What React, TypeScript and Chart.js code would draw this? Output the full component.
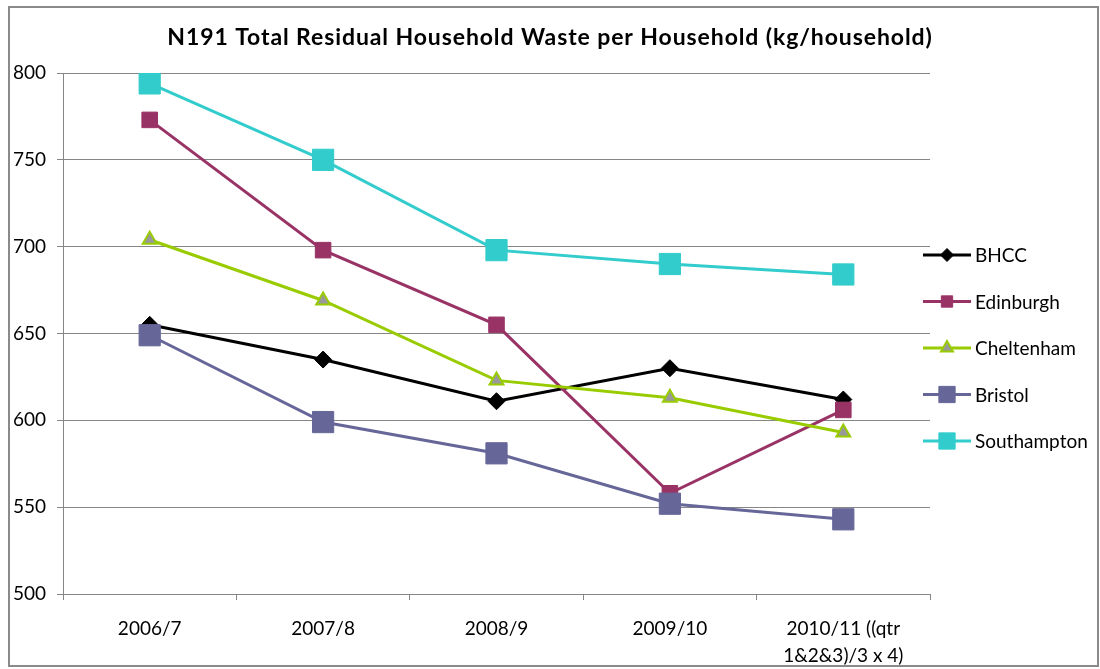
import React, { useEffect, useRef } from "react";
import { Chart, registerables } from "chart.js";
import { drawPoint } from "chart.js/helpers";

Chart.register(...registerables);

const TITLE = "N191 Total Residual Household Waste per Household (kg/household)";
const categories: (string | string[])[] = [
  "2006/7",
  "2007/8",
  "2008/9",
  "2009/10",
  ["2010/11 ((qtr", "1&2&3)/3 x 4)"],
];
const seriesNames = ["BHCC", "Edinburgh", "Cheltenham", "Bristol", "Southampton"];
const bhcc = [655, 635, 611, 630, 612];
const edinburgh = [773, 698, 655, 558, 606];
const cheltenham = [704, 669, 623, 613, 593];
const bristol = [649, 599, 581, 552, 543];
const southampton = [794, 750, 698, 690, 684];
const yTicks = { min: 500, max: 800, step: 50 };

const FONT = "Lato, 'Open Sans', sans-serif";
const GRID = "#868686";

const styles = [
  { line: "#000000", fill: "#000000", border: "#000000", shape: "rectRot", r: 8.5, bw: 1, lr: 6.5 },
  { line: "#993366", fill: "#993366", border: "#993366", shape: "rect", r: 11, bw: 1, lr: 8 },
  { line: "#99cc00", fill: "#999999", border: "#99cc00", shape: "triangle", r: 8, bw: 2, lr: 7 },
  { line: "#666699", fill: "#666699", border: "#666699", shape: "rect", r: 15, bw: 1, lr: 11.5 },
  { line: "#33cccc", fill: "#33cccc", border: "#33cccc", shape: "rect", r: 15, bw: 1, lr: 11.5 },
];

const titlePlugin = {
  id: "customTitle",
  afterDraw(chart: any) {
    const ctx = chart.ctx;
    ctx.save();
    ctx.font = `bold 23px ${FONT}`;
    (ctx as any).letterSpacing = "0.9px";
    ctx.fillStyle = "#000";
    ctx.textAlign = "center";
    ctx.textBaseline = "middle";
    ctx.fillText(TITLE, 550, 38);
    ctx.restore();
  },
};

const legendPlugin = {
  id: "customLegend",
  afterDraw(chart: any) {
    const ctx = chart.ctx;
    ctx.save();
    chart.data.datasets.forEach((ds: any, i: number) => {
      const st = styles[i];
      const y = 255 + i * 46.5;
      ctx.strokeStyle = st.line;
      ctx.lineWidth = 3;
      ctx.beginPath();
      ctx.moveTo(923, y);
      ctx.lineTo(971, y);
      ctx.stroke();
      ctx.fillStyle = st.fill;
      ctx.strokeStyle = st.border;
      ctx.lineWidth = st.bw;
      drawPoint(ctx, { pointStyle: st.shape, radius: st.lr, rotation: 0, borderWidth: st.bw } as any, 947, y);
      ctx.fillStyle = "#000";
      ctx.font = `19px ${FONT}`;
      ctx.textAlign = "left";
      ctx.textBaseline = "middle";
      ctx.fillText(ds.label, 975, y + 1);
    });
    ctx.restore();
  },
};

export default function App() {
  const ref = useRef<HTMLCanvasElement | null>(null);
  useEffect(() => {
    if (!ref.current) return;
    const values = [bhcc, edinburgh, cheltenham, bristol, southampton];
    const chart = new Chart(ref.current, {
      type: "line",
      data: {
        labels: categories,
        datasets: values.map((v, i) => ({
          label: seriesNames[i],
          data: v,
          borderColor: styles[i].line,
          borderWidth: 3,
          backgroundColor: styles[i].fill,
          pointBackgroundColor: styles[i].fill,
          pointBorderColor: styles[i].border,
          pointBorderWidth: styles[i].bw,
          pointStyle: styles[i].shape as any,
          pointRadius: styles[i].r,
          pointHoverRadius: styles[i].r,
          tension: 0,
          fill: false,
          order: 5 - i,
        })),
      },
      plugins: [titlePlugin, legendPlugin],
      options: {
        responsive: false,
        animation: false,
        devicePixelRatio: 1,
        layout: { padding: { left: 13, right: 170, top: 73, bottom: 0 } },
        plugins: {
          legend: { display: false },
          title: { display: false },
          tooltip: { enabled: false },
        },
        scales: {
          x: {
            type: "category",
            offset: true,
            grid: {
              offset: true,
              drawOnChartArea: false,
              drawTicks: true,
              tickLength: 6,
              color: GRID,
            },
            border: { display: true, color: GRID, width: 1 },
            ticks: {
              color: "#000",
              font: { family: FONT, size: 19, lineHeight: 1.42 },
              maxRotation: 0,
              minRotation: 0,
              autoSkip: false,
              padding: 15,
            },
            afterFit: (s: any) => {
              s.height = 75;
            },
          },
          y: {
            min: yTicks.min,
            max: yTicks.max,
            grid: { color: GRID, tickLength: 6, drawTicks: true },
            border: { display: true, color: GRID, width: 1 },
            ticks: {
              stepSize: yTicks.step,
              color: "#000",
              crossAlign: "far",
              font: { family: FONT, size: 19 },
            },
            afterFit: (s: any) => {
              s.width = 50;
            },
          },
        },
      },
    });
    return () => chart.destroy();
  }, []);
  return (
    <div style={{ position: "fixed", left: 0, top: 0, width: 1100, height: 669, background: "#fff" }}>
      <div
        style={{
          position: "absolute",
          left: 8,
          top: 6,
          width: 1091,
          height: 661,
          border: "2px solid #8a8a8a",
          boxSizing: "border-box",
        }}
      />
      <canvas ref={ref} width={1100} height={669} style={{ position: "absolute", left: 0, top: 0 }} />
    </div>
  );
}
